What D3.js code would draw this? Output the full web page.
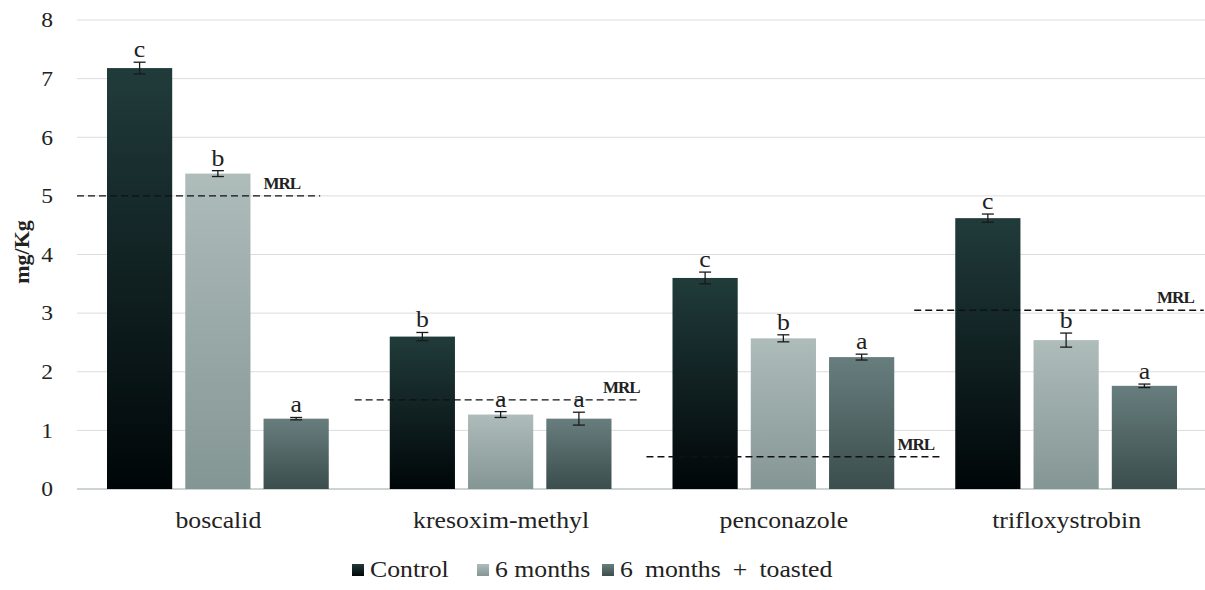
<!DOCTYPE html>
<html><head><meta charset="utf-8">
<script src="https://cdn.jsdelivr.net/npm/d3@7"></script>
<style>body{margin:0;background:#fff}svg{display:block}</style>
</head><body><svg id="c" width="1205" height="590"></svg>
<script>
const categories = ["boscalid","kresoxim-methyl","penconazole","trifloxystrobin"];
const seriesNames = ["Control","6 months","6 months + toasted"];
const control = [7.18, 2.60, 3.60, 4.62];
const sixMonths = [5.38, 1.27, 2.57, 2.54];
const toasted = [1.20, 1.20, 2.25, 1.76];
const controlErr = [0.10, 0.07, 0.10, 0.07];
const sixMonthsErr = [0.05, 0.05, 0.06, 0.12];
const toastedErr = [0.02, 0.11, 0.05, 0.03];
const controlLetters = ["c","b","c","c"];
const sixMonthsLetters = ["b","a","b","b"];
const toastedLetters = ["a","a","a","a"];
const mrl = [5.0, 1.52, 0.55, 3.05];
const yTicks = [0,1,2,3,4,5,6,7,8];

// layout (not data)
const FONT = "Liberation Serif";
const STRETCH = 1.12;
const mrlSpan = [[0.0,0.86],[-0.018,0.99],[0.014,1.06],[-0.039,0.985]];
const mrlLabelShift = [-20, 0, -8, -10];
const legendWordSpacing = [0, 0, 5];
const gradients = [["#213b3b","#000608"],["#aebcba","#849694"],["#687e7e","#3b4d4d"]];

const svg = d3.select("#c");
const m = {l:77, r:1208, t:20, b:489};
const x = d3.scaleBand().domain(categories).range([m.l,m.r]).paddingInner(0).paddingOuter(0);
const y = d3.scaleLinear().domain([0,8]).range([m.b,m.t]);
const x1 = d3.scaleBand().domain(seriesNames).range([30, x.bandwidth()-31]).paddingInner(0.167);

const defs = svg.append("defs");
gradients.forEach((g,i)=>{
  const lg = defs.append("linearGradient").attr("id","g"+i).attr("x1",0).attr("x2",0).attr("y1",0).attr("y2",1);
  lg.append("stop").attr("offset","0%").attr("stop-color",g[0]);
  lg.append("stop").attr("offset","100%").attr("stop-color",g[1]);
});

function T(sel, size, bold){
  sel.style("font-family",FONT).style("font-size",size+"px").style("fill","#222");
  if(bold) sel.style("font-weight","bold");
  return sel;
}
function stretch(sel, k){
  sel.each(function(){
    const w = this.getComputedTextLength();
    d3.select(this).attr("textLength", w*(k||STRETCH)).attr("lengthAdjust","spacingAndGlyphs");
  });
  return sel;
}

// grid
svg.append("g").selectAll("line").data(yTicks).join("line")
  .attr("x1",m.l).attr("x2",1205).attr("y1",d=>y(d)).attr("y2",d=>y(d))
  .attr("stroke",d=>d===0?"#cdd3d3":"#dcdcdc").attr("stroke-width",d=>d===0?2:1);

// y ticks
stretch(T(svg.append("g").selectAll("text").data(yTicks).join("text"),21)
  .attr("x",53).attr("y",d=>y(d)).attr("dy","0.35em").attr("text-anchor","end").text(d=>d));

T(svg.append("text"),22,true).attr("transform",`translate(29,252) rotate(-90)`)
  .attr("text-anchor","middle").text("mg/Kg");

const series = [
  {name:seriesNames[0], vals:control, err:controlErr, let:controlLetters},
  {name:seriesNames[1], vals:sixMonths, err:sixMonthsErr, let:sixMonthsLetters},
  {name:seriesNames[2], vals:toasted, err:toastedErr, let:toastedLetters}
];

const rows = [];
series.forEach((s,si)=>categories.forEach((c,ci)=>rows.push({si,c,ci,v:s.vals[ci],e:s.err[ci],l:s.let[ci],name:s.name})));

svg.append("g").selectAll("rect").data(rows).join("rect")
  .attr("x",d=>x(d.c)+x1(d.name)).attr("width",x1.bandwidth())
  .attr("y",d=>y(d.v)).attr("height",d=>y(0)-y(d.v))
  .attr("fill",d=>`url(#g${d.si})`);

// error bars
const eb = svg.append("g").attr("stroke","#1a1a1a").attr("stroke-width",1.3);
rows.forEach(d=>{
  const cx = x(d.c)+x1(d.name)+x1.bandwidth()/2;
  eb.append("line").attr("x1",cx).attr("x2",cx).attr("y1",y(d.v+d.e)).attr("y2",y(d.v-d.e));
  [d.v+d.e,d.v-d.e].forEach(v=>eb.append("line").attr("x1",cx-6).attr("x2",cx+6).attr("y1",y(v)).attr("y2",y(v)));
});
stretch(T(svg.append("g").selectAll("text").data(rows).join("text"),23)
  .attr("x",d=>x(d.c)+x1(d.name)+x1.bandwidth()/2).attr("y",d=>y(d.v+d.e)-5)
  .attr("text-anchor","middle").text(d=>d.l));

// MRL lines
categories.forEach((c,i)=>{
  const bw = x.bandwidth();
  const x0 = x(c)+mrlSpan[i][0]*bw, x2 = Math.min(1205, x(c)+mrlSpan[i][1]*bw);
  svg.append("line").attr("x1",x0).attr("x2",x2).attr("y1",y(mrl[i])).attr("y2",y(mrl[i]))
    .attr("stroke","#111").attr("stroke-width",1.4).attr("stroke-dasharray","7,4");
  T(svg.append("text"),17,true).attr("x",x2+mrlLabelShift[i]).attr("y",y(mrl[i])-7)
    .attr("text-anchor","end").style("letter-spacing","-1px").text("MRL");
});

// category labels
stretch(T(svg.append("g").selectAll("text").data(categories).join("text"),23)
  .attr("x",d=>x(d)+x.bandwidth()/2).attr("y",528).attr("text-anchor","middle").text(d=>d));

// legend
const leg = svg.append("g");
const legX = [352, 477, 602];
seriesNames.forEach((s,i)=>{
  leg.append("rect").attr("x",legX[i]).attr("y",564).attr("width",12).attr("height",12).attr("fill",`url(#g${i})`);
  stretch(T(leg.append("text"),23).style("word-spacing",legendWordSpacing[i]+"px")
    .attr("x",legX[i]+18).attr("y",577).text(s));
});
</script></body></html>
